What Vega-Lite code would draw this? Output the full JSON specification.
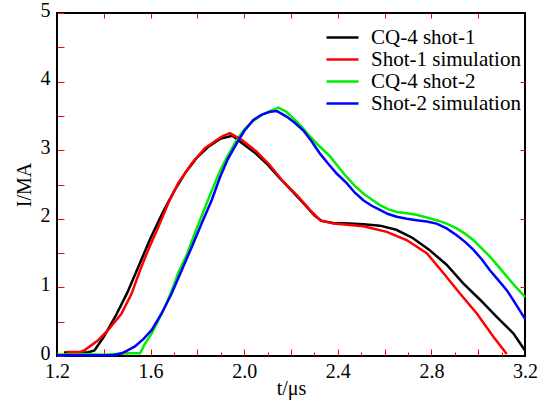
{
  "$schema": "https://vega.github.io/schema/vega-lite/v6.json",
  "width": 468,
  "height": 343,
  "autosize": {"type": "none"},
  "padding": {"left": 57, "top": 13, "right": 27, "bottom": 46},
  "config": {"font": "Liberation Serif", "view": {"stroke": "#000000", "strokeWidth": 2}},
  "resolve": {"axis": {"x": "independent", "y": "independent"}},
  "layer": [
    {
      "data": {
        "values": [
          {"s": "CQ-4 shot-1", "t": 1.23, "i": 0.05},
          {"s": "CQ-4 shot-1", "t": 1.33, "i": 0.05},
          {"s": "CQ-4 shot-1", "t": 1.36, "i": 0.08},
          {"s": "CQ-4 shot-1", "t": 1.40, "i": 0.28},
          {"s": "CQ-4 shot-1", "t": 1.45, "i": 0.58},
          {"s": "CQ-4 shot-1", "t": 1.50, "i": 0.92},
          {"s": "CQ-4 shot-1", "t": 1.55, "i": 1.32},
          {"s": "CQ-4 shot-1", "t": 1.60, "i": 1.72},
          {"s": "CQ-4 shot-1", "t": 1.65, "i": 2.08},
          {"s": "CQ-4 shot-1", "t": 1.70, "i": 2.40},
          {"s": "CQ-4 shot-1", "t": 1.75, "i": 2.68},
          {"s": "CQ-4 shot-1", "t": 1.80, "i": 2.90},
          {"s": "CQ-4 shot-1", "t": 1.85, "i": 3.06},
          {"s": "CQ-4 shot-1", "t": 1.90, "i": 3.17},
          {"s": "CQ-4 shot-1", "t": 1.95, "i": 3.21},
          {"s": "CQ-4 shot-1", "t": 2.00, "i": 3.08},
          {"s": "CQ-4 shot-1", "t": 2.05, "i": 2.95},
          {"s": "CQ-4 shot-1", "t": 2.10, "i": 2.79},
          {"s": "CQ-4 shot-1", "t": 2.15, "i": 2.60},
          {"s": "CQ-4 shot-1", "t": 2.20, "i": 2.42},
          {"s": "CQ-4 shot-1", "t": 2.25, "i": 2.24},
          {"s": "CQ-4 shot-1", "t": 2.30, "i": 2.05},
          {"s": "CQ-4 shot-1", "t": 2.33, "i": 1.97},
          {"s": "CQ-4 shot-1", "t": 2.38, "i": 1.94},
          {"s": "CQ-4 shot-1", "t": 2.45, "i": 1.93},
          {"s": "CQ-4 shot-1", "t": 2.51, "i": 1.92},
          {"s": "CQ-4 shot-1", "t": 2.58, "i": 1.90},
          {"s": "CQ-4 shot-1", "t": 2.65, "i": 1.84},
          {"s": "CQ-4 shot-1", "t": 2.72, "i": 1.72},
          {"s": "CQ-4 shot-1", "t": 2.79, "i": 1.55},
          {"s": "CQ-4 shot-1", "t": 2.865, "i": 1.33},
          {"s": "CQ-4 shot-1", "t": 2.936, "i": 1.06},
          {"s": "CQ-4 shot-1", "t": 3.008, "i": 0.82},
          {"s": "CQ-4 shot-1", "t": 3.079, "i": 0.57},
          {"s": "CQ-4 shot-1", "t": 3.15, "i": 0.33},
          {"s": "CQ-4 shot-1", "t": 3.2, "i": 0.08},
          {"s": "CQ-4 shot-2", "t": 1.20, "i": 0.02},
          {"s": "CQ-4 shot-2", "t": 1.30, "i": 0.03},
          {"s": "CQ-4 shot-2", "t": 1.40, "i": 0.02},
          {"s": "CQ-4 shot-2", "t": 1.50, "i": 0.04},
          {"s": "CQ-4 shot-2", "t": 1.555, "i": 0.04},
          {"s": "CQ-4 shot-2", "t": 1.576, "i": 0.18},
          {"s": "CQ-4 shot-2", "t": 1.605, "i": 0.33},
          {"s": "CQ-4 shot-2", "t": 1.63, "i": 0.50},
          {"s": "CQ-4 shot-2", "t": 1.662, "i": 0.72},
          {"s": "CQ-4 shot-2", "t": 1.69, "i": 0.95},
          {"s": "CQ-4 shot-2", "t": 1.718, "i": 1.21},
          {"s": "CQ-4 shot-2", "t": 1.754, "i": 1.47},
          {"s": "CQ-4 shot-2", "t": 1.79, "i": 1.80},
          {"s": "CQ-4 shot-2", "t": 1.825, "i": 2.10},
          {"s": "CQ-4 shot-2", "t": 1.86, "i": 2.40},
          {"s": "CQ-4 shot-2", "t": 1.897, "i": 2.70},
          {"s": "CQ-4 shot-2", "t": 1.93, "i": 2.92},
          {"s": "CQ-4 shot-2", "t": 1.968, "i": 3.15},
          {"s": "CQ-4 shot-2", "t": 2.00, "i": 3.30},
          {"s": "CQ-4 shot-2", "t": 2.039, "i": 3.43},
          {"s": "CQ-4 shot-2", "t": 2.075, "i": 3.51},
          {"s": "CQ-4 shot-2", "t": 2.11, "i": 3.57},
          {"s": "CQ-4 shot-2", "t": 2.146, "i": 3.62},
          {"s": "CQ-4 shot-2", "t": 2.18, "i": 3.56},
          {"s": "CQ-4 shot-2", "t": 2.211, "i": 3.46},
          {"s": "CQ-4 shot-2", "t": 2.246, "i": 3.34},
          {"s": "CQ-4 shot-2", "t": 2.281, "i": 3.20},
          {"s": "CQ-4 shot-2", "t": 2.324, "i": 3.05},
          {"s": "CQ-4 shot-2", "t": 2.367, "i": 2.91},
          {"s": "CQ-4 shot-2", "t": 2.402, "i": 2.76},
          {"s": "CQ-4 shot-2", "t": 2.438, "i": 2.61},
          {"s": "CQ-4 shot-2", "t": 2.473, "i": 2.48},
          {"s": "CQ-4 shot-2", "t": 2.509, "i": 2.37},
          {"s": "CQ-4 shot-2", "t": 2.545, "i": 2.28},
          {"s": "CQ-4 shot-2", "t": 2.58, "i": 2.20},
          {"s": "CQ-4 shot-2", "t": 2.615, "i": 2.14},
          {"s": "CQ-4 shot-2", "t": 2.652, "i": 2.10},
          {"s": "CQ-4 shot-2", "t": 2.695, "i": 2.08},
          {"s": "CQ-4 shot-2", "t": 2.737, "i": 2.06},
          {"s": "CQ-4 shot-2", "t": 2.78, "i": 2.02},
          {"s": "CQ-4 shot-2", "t": 2.822, "i": 1.98},
          {"s": "CQ-4 shot-2", "t": 2.865, "i": 1.93},
          {"s": "CQ-4 shot-2", "t": 2.908, "i": 1.86},
          {"s": "CQ-4 shot-2", "t": 2.945, "i": 1.78},
          {"s": "CQ-4 shot-2", "t": 2.979, "i": 1.69},
          {"s": "CQ-4 shot-2", "t": 3.015, "i": 1.57},
          {"s": "CQ-4 shot-2", "t": 3.05, "i": 1.45},
          {"s": "CQ-4 shot-2", "t": 3.085, "i": 1.31},
          {"s": "CQ-4 shot-2", "t": 3.122, "i": 1.16},
          {"s": "CQ-4 shot-2", "t": 3.16, "i": 1.01},
          {"s": "CQ-4 shot-2", "t": 3.2, "i": 0.86},
          {"s": "Shot-1 simulation", "t": 1.24, "i": 0.06},
          {"s": "Shot-1 simulation", "t": 1.30, "i": 0.06},
          {"s": "Shot-1 simulation", "t": 1.32, "i": 0.09},
          {"s": "Shot-1 simulation", "t": 1.376, "i": 0.23},
          {"s": "Shot-1 simulation", "t": 1.419, "i": 0.38},
          {"s": "Shot-1 simulation", "t": 1.476, "i": 0.62},
          {"s": "Shot-1 simulation", "t": 1.519, "i": 0.91},
          {"s": "Shot-1 simulation", "t": 1.555, "i": 1.25},
          {"s": "Shot-1 simulation", "t": 1.59, "i": 1.55},
          {"s": "Shot-1 simulation", "t": 1.633, "i": 1.88},
          {"s": "Shot-1 simulation", "t": 1.676, "i": 2.23},
          {"s": "Shot-1 simulation", "t": 1.718, "i": 2.52},
          {"s": "Shot-1 simulation", "t": 1.776, "i": 2.81},
          {"s": "Shot-1 simulation", "t": 1.832, "i": 3.03},
          {"s": "Shot-1 simulation", "t": 1.904, "i": 3.20},
          {"s": "Shot-1 simulation", "t": 1.939, "i": 3.25},
          {"s": "Shot-1 simulation", "t": 1.989, "i": 3.15},
          {"s": "Shot-1 simulation", "t": 2.053, "i": 2.98},
          {"s": "Shot-1 simulation", "t": 2.11, "i": 2.78},
          {"s": "Shot-1 simulation", "t": 2.167, "i": 2.54},
          {"s": "Shot-1 simulation", "t": 2.224, "i": 2.35},
          {"s": "Shot-1 simulation", "t": 2.281, "i": 2.13},
          {"s": "Shot-1 simulation", "t": 2.324, "i": 1.98},
          {"s": "Shot-1 simulation", "t": 2.381, "i": 1.93},
          {"s": "Shot-1 simulation", "t": 2.452, "i": 1.91},
          {"s": "Shot-1 simulation", "t": 2.509, "i": 1.89},
          {"s": "Shot-1 simulation", "t": 2.609, "i": 1.81},
          {"s": "Shot-1 simulation", "t": 2.694, "i": 1.69},
          {"s": "Shot-1 simulation", "t": 2.78, "i": 1.50},
          {"s": "Shot-1 simulation", "t": 2.851, "i": 1.21},
          {"s": "Shot-1 simulation", "t": 2.922, "i": 0.91},
          {"s": "Shot-1 simulation", "t": 2.994, "i": 0.62},
          {"s": "Shot-1 simulation", "t": 3.065, "i": 0.28},
          {"s": "Shot-1 simulation", "t": 3.122, "i": 0.03},
          {"s": "Shot-2 simulation", "t": 1.20, "i": 0.01},
          {"s": "Shot-2 simulation", "t": 1.44, "i": 0.01},
          {"s": "Shot-2 simulation", "t": 1.476, "i": 0.04},
          {"s": "Shot-2 simulation", "t": 1.50, "i": 0.08},
          {"s": "Shot-2 simulation", "t": 1.533, "i": 0.14},
          {"s": "Shot-2 simulation", "t": 1.57, "i": 0.25},
          {"s": "Shot-2 simulation", "t": 1.605, "i": 0.38},
          {"s": "Shot-2 simulation", "t": 1.647, "i": 0.62},
          {"s": "Shot-2 simulation", "t": 1.69, "i": 0.91},
          {"s": "Shot-2 simulation", "t": 1.733, "i": 1.25},
          {"s": "Shot-2 simulation", "t": 1.776, "i": 1.59},
          {"s": "Shot-2 simulation", "t": 1.818, "i": 1.93},
          {"s": "Shot-2 simulation", "t": 1.861, "i": 2.27},
          {"s": "Shot-2 simulation", "t": 1.897, "i": 2.61},
          {"s": "Shot-2 simulation", "t": 1.93, "i": 2.87},
          {"s": "Shot-2 simulation", "t": 1.968, "i": 3.10},
          {"s": "Shot-2 simulation", "t": 2.00, "i": 3.28},
          {"s": "Shot-2 simulation", "t": 2.039, "i": 3.44},
          {"s": "Shot-2 simulation", "t": 2.075, "i": 3.52},
          {"s": "Shot-2 simulation", "t": 2.11, "i": 3.56},
          {"s": "Shot-2 simulation", "t": 2.14, "i": 3.57},
          {"s": "Shot-2 simulation", "t": 2.181, "i": 3.49},
          {"s": "Shot-2 simulation", "t": 2.216, "i": 3.40},
          {"s": "Shot-2 simulation", "t": 2.252, "i": 3.29},
          {"s": "Shot-2 simulation", "t": 2.288, "i": 3.13},
          {"s": "Shot-2 simulation", "t": 2.324, "i": 2.95},
          {"s": "Shot-2 simulation", "t": 2.36, "i": 2.80},
          {"s": "Shot-2 simulation", "t": 2.395, "i": 2.66},
          {"s": "Shot-2 simulation", "t": 2.438, "i": 2.52},
          {"s": "Shot-2 simulation", "t": 2.473, "i": 2.38},
          {"s": "Shot-2 simulation", "t": 2.509, "i": 2.27},
          {"s": "Shot-2 simulation", "t": 2.545, "i": 2.19},
          {"s": "Shot-2 simulation", "t": 2.58, "i": 2.13},
          {"s": "Shot-2 simulation", "t": 2.615, "i": 2.07},
          {"s": "Shot-2 simulation", "t": 2.652, "i": 2.03},
          {"s": "Shot-2 simulation", "t": 2.695, "i": 2.00},
          {"s": "Shot-2 simulation", "t": 2.737, "i": 1.98},
          {"s": "Shot-2 simulation", "t": 2.78, "i": 1.96},
          {"s": "Shot-2 simulation", "t": 2.822, "i": 1.93},
          {"s": "Shot-2 simulation", "t": 2.865, "i": 1.86},
          {"s": "Shot-2 simulation", "t": 2.908, "i": 1.76},
          {"s": "Shot-2 simulation", "t": 2.945, "i": 1.66},
          {"s": "Shot-2 simulation", "t": 2.979, "i": 1.55},
          {"s": "Shot-2 simulation", "t": 3.015, "i": 1.41},
          {"s": "Shot-2 simulation", "t": 3.05, "i": 1.25},
          {"s": "Shot-2 simulation", "t": 3.085, "i": 1.11},
          {"s": "Shot-2 simulation", "t": 3.122, "i": 0.96},
          {"s": "Shot-2 simulation", "t": 3.16, "i": 0.76},
          {"s": "Shot-2 simulation", "t": 3.2, "i": 0.54}
        ]
      },
      "mark": {"type": "line", "strokeWidth": 2.5},
      "encoding": {
        "x": {
          "field": "t", "type": "quantitative",
          "scale": {"domain": [1.2, 3.2], "nice": false, "zero": false},
          "axis": {
            "orient": "bottom",
            "grid": false,
            "values": [1.2, 1.3, 1.4, 1.5, 1.6, 1.7, 1.8, 1.9, 2.0, 2.1, 2.2, 2.3, 2.4, 2.5, 2.6, 2.7, 2.8, 2.9, 3.0, 3.1, 3.2],
            "tickColor": "red",
            "tickSize": {"condition": {"test": "round(datum.value*10) % 2 == 0", "value": -7}, "value": -4},
            "labelExpr": "round(datum.value*10) % 4 == 0 ? format(datum.value, '.1f') : ''",
            "labelPadding": 12,
            "labelFontSize": 20, "labelColor": "#000000",
            "domainColor": "#000000",
            "title": "t/μs", "titlePadding": -3, "titleFontSize": 20, "titleFontWeight": "normal", "titleColor": "#000000",
            "labelFlush": false
          }
        },
        "y": {
          "field": "i", "type": "quantitative",
          "scale": {"domain": [0, 5], "nice": false, "zero": false},
          "axis": {
            "orient": "left",
            "grid": false,
            "values": [0, 0.5, 1, 1.5, 2, 2.5, 3, 3.5, 4, 4.5, 5],
            "tickColor": "red",
            "tickSize": -7,
            "labelExpr": "round(datum.value*2) % 2 == 0 ? format(datum.value, 'd') : ''",
            "labelPadding": 14, "labelOffset": -3,
            "labelFontSize": 20, "labelColor": "#000000",
            "domainColor": "#000000",
            "title": "I/MA", "titlePadding": 6, "titleFontSize": 20, "titleFontWeight": "normal", "titleColor": "#000000",
            "labelFlush": false
          }
        },
        "color": {
          "field": "s", "type": "nominal",
          "scale": {
            "domain": ["CQ-4 shot-1", "Shot-1 simulation", "CQ-4 shot-2", "Shot-2 simulation"],
            "range": ["#000000", "#ff0000", "#00ee00", "#0000ff"]
          },
          "legend": {
            "title": null,
            "orient": "none",
            "legendX": 274,
            "legendY": 13,
            "padding": 0,
            "rowPadding": 0,
            "symbolType": "M-1.6,0H1.6",
            "symbolSize": 400,
            "symbolStrokeWidth": 2.5,
            "labelOffset": 17,
            "labelFontSize": 21,
            "labelColor": "#000000"
          }
        }
      }
    },
    {
      "data": {"values": [{"t": 1.2, "i": 0}]},
      "mark": {"type": "point", "opacity": 0},
      "encoding": {
        "x": {"field": "t", "type": "quantitative",
          "axis": {"orient": "top", "grid": false, "values": [1.4, 1.6, 1.8, 2.0, 2.2, 2.4, 2.6, 2.8, 3.0], "tickColor": "red", "tickSize": -5, "labelExpr": "''", "domainColor": "#000000", "title": null}},
        "y": {"field": "i", "type": "quantitative",
          "axis": {"orient": "right", "grid": false, "values": [1, 2, 3, 4], "tickColor": "red", "tickSize": -5, "labelExpr": "''", "domainColor": "#000000", "title": null}}
      }
    }
  ]
}
